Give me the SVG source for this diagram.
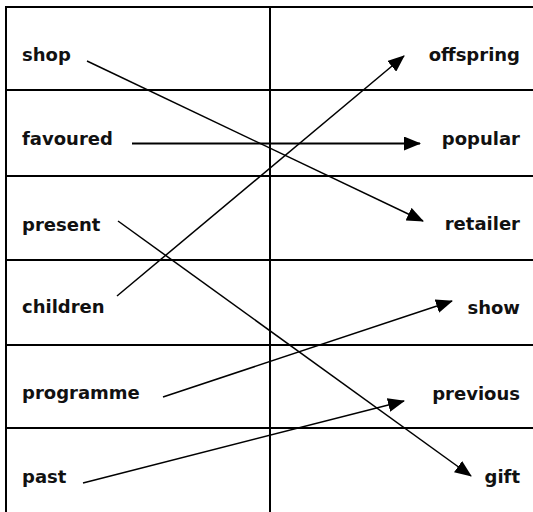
<svg xmlns="http://www.w3.org/2000/svg" width="533" height="512" viewBox="0 0 533 512">
<style>
.grid{stroke:#000;stroke-width:2;fill:none}
.t{font-family:"DejaVu Sans",Verdana,sans-serif;font-weight:bold;font-size:18px;fill:#111}
.r{text-anchor:end}
.c{stroke:#000;stroke-width:1.5;fill:none;marker-end:url(#ah)}
</style>
<defs>
<marker id="ah" markerUnits="userSpaceOnUse" viewBox="0 0 17 14" markerWidth="17" markerHeight="14" refX="16" refY="7" orient="auto">
<path d="M0,0 L17,7 L0,14 z" fill="#000"/>
</marker>
</defs>
<rect width="533" height="512" fill="#fff"/>
<g id="table" class="grid">
<line x1="6" y1="7" x2="533" y2="7"/>
<line x1="6" y1="90" x2="533" y2="90"/>
<line x1="6" y1="176" x2="533" y2="176"/>
<line x1="6" y1="260" x2="533" y2="260"/>
<line x1="6" y1="345" x2="533" y2="345"/>
<line x1="6" y1="428" x2="533" y2="428"/>
<line x1="6" y1="6" x2="6" y2="512"/>
<line x1="270" y1="7" x2="270" y2="512"/>
</g>
<g id="left">
<g id="n-shop"><text class="t" x="22" y="61">shop</text></g>
<g id="n-favoured"><text class="t" x="22" y="145">favoured</text></g>
<g id="n-present"><text class="t" x="22" y="231">present</text></g>
<g id="n-children"><text class="t" x="22" y="313">children</text></g>
<g id="n-programme"><text class="t" x="22" y="399">programme</text></g>
<g id="n-past"><text class="t" x="22" y="483">past</text></g>
</g>
<g id="right">
<g id="n-offspring"><text class="t r" x="520" y="61">offspring</text></g>
<g id="n-popular"><text class="t r" x="520" y="145">popular</text></g>
<g id="n-retailer"><text class="t r" x="520" y="230">retailer</text></g>
<g id="n-show"><text class="t r" x="520" y="314">show</text></g>
<g id="n-previous"><text class="t r" x="520" y="400">previous</text></g>
<g id="n-gift"><text class="t r" x="520" y="483">gift</text></g>
</g>
<g id="connectors">
<line class="c" x1="87" y1="61" x2="423" y2="221"/>
<line class="c" x1="132" y1="143.5" x2="420" y2="143.5" style="stroke-width:2.2"/>
<line class="c" x1="118" y1="221" x2="471" y2="476"/>
<line class="c" x1="117" y1="296" x2="404" y2="56"/>
<line class="c" x1="163" y1="397" x2="452" y2="301"/>
<line class="c" x1="83" y1="483" x2="404" y2="401"/>
</g>
</svg>
